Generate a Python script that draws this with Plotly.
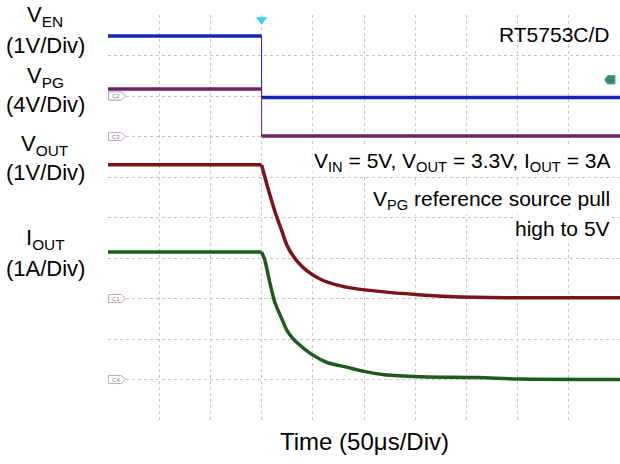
"""Scope capture: RT5753C/D power-off sequence (EN falling, 3A load)."""

import plotly.graph_objects as go

# time in microseconds, trigger (EN falling) at 0
TIME_STEP = [-150, 0, 0, 350]
VEN = [1.48, 1.48, -0.04, -0.04]
VPG = [4.7, 4.7, 0.05, 0.05]

VOUT_T = [-150, 0, 3, 6, 13, 20, 25, 35, 45, 58, 74, 90, 117, 150, 183, 240, 350]
VOUT = [3.3, 3.3, 3.02, 2.74, 2.15, 1.65, 1.3, 0.91, 0.67, 0.47, 0.33, 0.25, 0.17, 0.1, 0.05, 0.02, 0.02]

IOUT_T = [-150, 0, 3, 8, 13, 20, 25, 30, 35, 49, 64, 84, 100, 120, 154, 212, 251, 350]
IOUT = [3.15, 3.15, 2.96, 2.4, 1.9, 1.48, 1.2, 1.03, 0.9, 0.62, 0.42, 0.3, 0.2, 0.12, 0.07, 0.05, 0.01, 0.0]

# channel: (ground position in divisions, units per division, colour, marker label, marker edge)
CHANNELS = {
    "EN": (8, 1, "#1a22b8", "C2", "#9a9ad8"),
    "PG": (7, 4, "#6a2262", "C3", "#c0a0c4"),
    "OUT": (3, 1, "#7a1418", "C1", "#d8a0a4"),
    "IOUT": (1, 1, "#1d5a1d", "C4", "#a8b8a8"),
}

FONT = "Liberation Sans, Arial, sans-serif"
X_RANGE = [-150, 350]


def to_div(values, ch):
    off, scale = CHANNELS[ch][0], CHANNELS[ch][1]
    return [off + v / scale for v in values]


def split_steps(t, v):
    # plateaus drawn thick, the fast edges thin
    xs, ys = [], []
    for i in range(len(t)):
        if i > 0 and t[i] == t[i - 1]:
            xs.append(None)
            ys.append(None)
        xs.append(t[i])
        ys.append(v[i])
    return xs, ys


fig = go.Figure()

for ch, t, v in [("EN", TIME_STEP, VEN), ("PG", TIME_STEP, VPG)]:
    y = to_div(v, ch)
    colour = CHANNELS[ch][2]
    fig.add_trace(go.Scatter(x=t, y=y, mode="lines", line=dict(color=colour, width=1),
                             showlegend=False, hoverinfo="skip"))
    xs, ys = split_steps(t, y)
    fig.add_trace(go.Scatter(x=xs, y=ys, mode="lines", line=dict(color=colour, width=3.5),
                             showlegend=False, connectgaps=False))

for ch, t, v in [("OUT", VOUT_T, VOUT), ("IOUT", IOUT_T, IOUT)]:
    y = to_div(v, ch)
    k = t.index(0)
    colour = CHANNELS[ch][2]
    # flat part before the trigger, then the discharge curve
    fig.add_trace(go.Scatter(x=t[:k + 1], y=y[:k + 1], mode="lines",
                             line=dict(color=colour, width=3.5), showlegend=False))
    fig.add_trace(go.Scatter(x=t[k:], y=y[k:], mode="lines",
                             line=dict(color=colour, width=3.5, shape="spline", smoothing=0.7),
                             showlegend=False))

# trigger position marker
fig.add_trace(go.Scatter(x=[0], y=[9.88], mode="markers", cliponaxis=False,
                         marker=dict(symbol="triangle-down", size=10, color="#30d8e8"),
                         showlegend=False, hoverinfo="skip"))

shapes = []
annotations = []

# ground markers on the left edge
for ch, (off, scale, colour, label, edge) in CHANNELS.items():
    shapes.append(dict(
        type="path", xref="x", yref="y",
        path=f"M -149.5 {off - 0.1} L -137 {off - 0.1} L -133 {off} L -137 {off + 0.1} L -149.5 {off + 0.1} Z",
        line=dict(color=edge, width=1), fillcolor="white", layer="above",
    ))
    annotations.append(dict(x=-142, y=off, xref="x", yref="y", text=label, showarrow=False,
                            font=dict(size=6, color="#808080", family=FONT)))

# trigger level marker at right edge
shapes.append(dict(
    type="path", xref="x", yref="y",
    path="M 345 8.3 L 338 8.3 L 335 8.4 L 338 8.5 L 345 8.5 Z",
    line=dict(color="#3a8a78", width=1), fillcolor="#3a8a78", layer="above",
))

left_labels = [
    ("V<sub>EN</sub>", 9.97), ("(1V/Div)", 9.24),
    ("V<sub>PG</sub>", 8.48), ("(4V/Div)", 7.8),
    ("V<sub>OUT</sub>", 6.79), ("(1V/Div)", 6.1),
    ("I<sub>OUT</sub>", 4.46), ("(1A/Div)", 3.73),
]
for text, y in left_labels:
    annotations.append(dict(x=-0.123, y=y, xref="paper", yref="y", text=text, showarrow=False,
                            xanchor="center", yanchor="middle",
                            font=dict(size=22, color="black", family=FONT)))

right_labels = [
    ("RT5753C/D", 9.53, None),
    ("V<sub>IN</sub> = 5V, V<sub>OUT</sub> = 3.3V, I<sub>OUT</sub> = 3A", 6.37, "white"),
    ("V<sub>PG</sub> reference source pull", 5.43, "white"),
    ("high to 5V", 4.74, "white"),
]
for text, y, bg in right_labels:
    annotations.append(dict(x=0.984, y=y, xref="paper", yref="y", text=text, showarrow=False,
                            xanchor="right", yanchor="middle", bgcolor=bg,
                            font=dict(size=21, color="black", family=FONT)))

annotations.append(dict(x=0.5, y=-0.052, xref="paper", yref="paper", text="Time (50\u03bcs/Div)",
                        showarrow=False, xanchor="center", yanchor="middle",
                        font=dict(size=24, color="black", family=FONT)))

grid = dict(showgrid=True, gridcolor="#c4c4c4", griddash="dot", gridwidth=1,
            showticklabels=False, ticks="", zeroline=False, showline=False, fixedrange=True)

fig.update_layout(
    width=620,
    height=464,
    margin=dict(l=108, r=0, t=15, b=44),
    plot_bgcolor="white",
    paper_bgcolor="white",
    shapes=shapes,
    annotations=annotations,
    xaxis=dict(range=X_RANGE, tick0=-150, dtick=50, **grid),
    yaxis=dict(range=[0, 10], tick0=0, dtick=1, **grid),
)

fig.write_html("out.html", config={"displayModeBar": False},
               post_script="document.body.style.margin = '0';")
